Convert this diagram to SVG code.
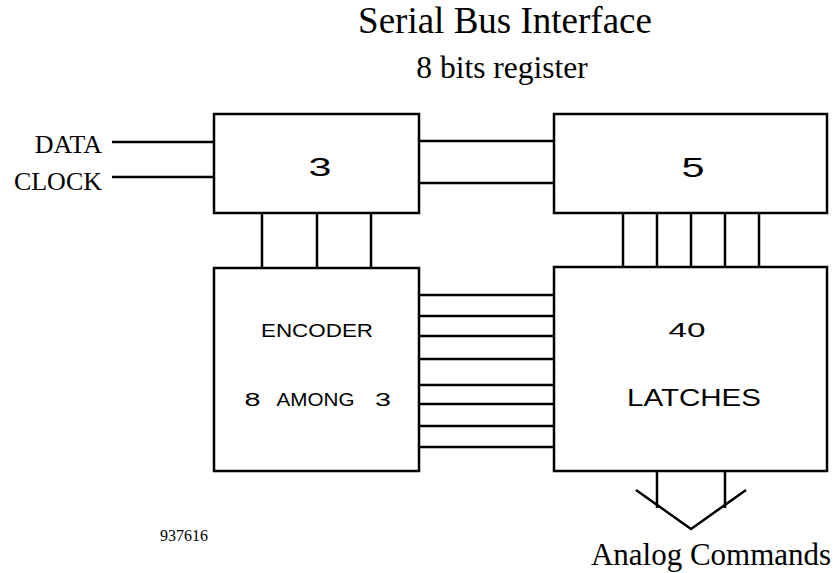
<svg xmlns="http://www.w3.org/2000/svg" width="838" height="573" viewBox="0 0 838 573">
<style>
.box{fill:#fff;stroke:#000;stroke-width:2.5}
.ln{stroke:#000;stroke-width:2.5;fill:none}
.serif{font-family:"Liberation Serif","Times New Roman",serif;fill:#000}
.stk{font-family:"Liberation Sans",Arial,sans-serif;fill:#000;text-anchor:middle}
</style>
<rect width="838" height="573" fill="#fff"/>
<text class="serif" x="505" y="33" font-size="37" text-anchor="middle">Serial Bus Interface</text>
<text class="serif" x="502" y="78" font-size="31.5" text-anchor="middle">8 bits register</text>
<text class="serif" x="102" y="153" font-size="26" text-anchor="end">DATA</text>
<text class="serif" x="102" y="190" font-size="26" text-anchor="end">CLOCK</text>
<text class="serif" x="184" y="541" font-size="16" text-anchor="middle">937616</text>
<text class="serif" x="711" y="565" font-size="31" text-anchor="middle">Analog Commands</text>
<g id="connectors">
<line class="ln" x1="112" y1="142" x2="214" y2="142"/>
<line class="ln" x1="112" y1="177" x2="214" y2="177"/>
<line class="ln" x1="419" y1="141" x2="554" y2="141"/>
<line class="ln" x1="419" y1="183" x2="554" y2="183"/>
<line class="ln" x1="262" y1="213" x2="262" y2="268"/>
<line class="ln" x1="317" y1="213" x2="317" y2="268"/>
<line class="ln" x1="371" y1="213" x2="371" y2="268"/>
<line class="ln" x1="623" y1="213" x2="623" y2="267"/>
<line class="ln" x1="657" y1="213" x2="657" y2="267"/>
<line class="ln" x1="691" y1="213" x2="691" y2="267"/>
<line class="ln" x1="725" y1="213" x2="725" y2="267"/>
<line class="ln" x1="759" y1="213" x2="759" y2="267"/>
<line class="ln" x1="419" y1="295" x2="554" y2="295"/>
<line class="ln" x1="419" y1="316" x2="554" y2="316"/>
<line class="ln" x1="419" y1="336" x2="554" y2="336"/>
<line class="ln" x1="419" y1="359" x2="554" y2="359"/>
<line class="ln" x1="419" y1="385" x2="554" y2="385"/>
<line class="ln" x1="419" y1="404" x2="554" y2="404"/>
<line class="ln" x1="419" y1="426" x2="554" y2="426"/>
<line class="ln" x1="419" y1="447" x2="554" y2="447"/>
<line class="ln" x1="657" y1="471" x2="657" y2="508"/>
<line class="ln" x1="725" y1="471" x2="725" y2="508"/>
<polyline class="ln" points="636,490 691,529 746,490"/>
</g>
<g id="reg3">
<rect class="box" x="214" y="114" width="205" height="99"/>
<text class="stk" x="320" y="176" font-size="26" textLength="23" lengthAdjust="spacingAndGlyphs">3</text>
</g>
<g id="reg5">
<rect class="box" x="554" y="114" width="273" height="99"/>
<text class="stk" x="693" y="177" font-size="27" textLength="23" lengthAdjust="spacingAndGlyphs">5</text>
</g>
<g id="encoder">
<rect class="box" x="214" y="268" width="205" height="203"/>
<text class="stk" x="317" y="337" font-size="18" textLength="112" lengthAdjust="spacingAndGlyphs">ENCODER</text>
<text class="stk" y="406" font-size="18"><tspan x="255" textLength="16" lengthAdjust="spacingAndGlyphs">8</tspan> <tspan x="318" textLength="78" lengthAdjust="spacingAndGlyphs">AMONG</tspan> <tspan x="383" textLength="16" lengthAdjust="spacingAndGlyphs">3</tspan></text>
</g>
<g id="latches">
<rect class="box" x="554" y="267" width="273" height="204"/>
<text class="stk" x="687" y="337" font-size="21" textLength="37" lengthAdjust="spacingAndGlyphs">40</text>
<text class="stk" x="694" y="406" font-size="24" textLength="134" lengthAdjust="spacingAndGlyphs">LATCHES</text>
</g>
</svg>
